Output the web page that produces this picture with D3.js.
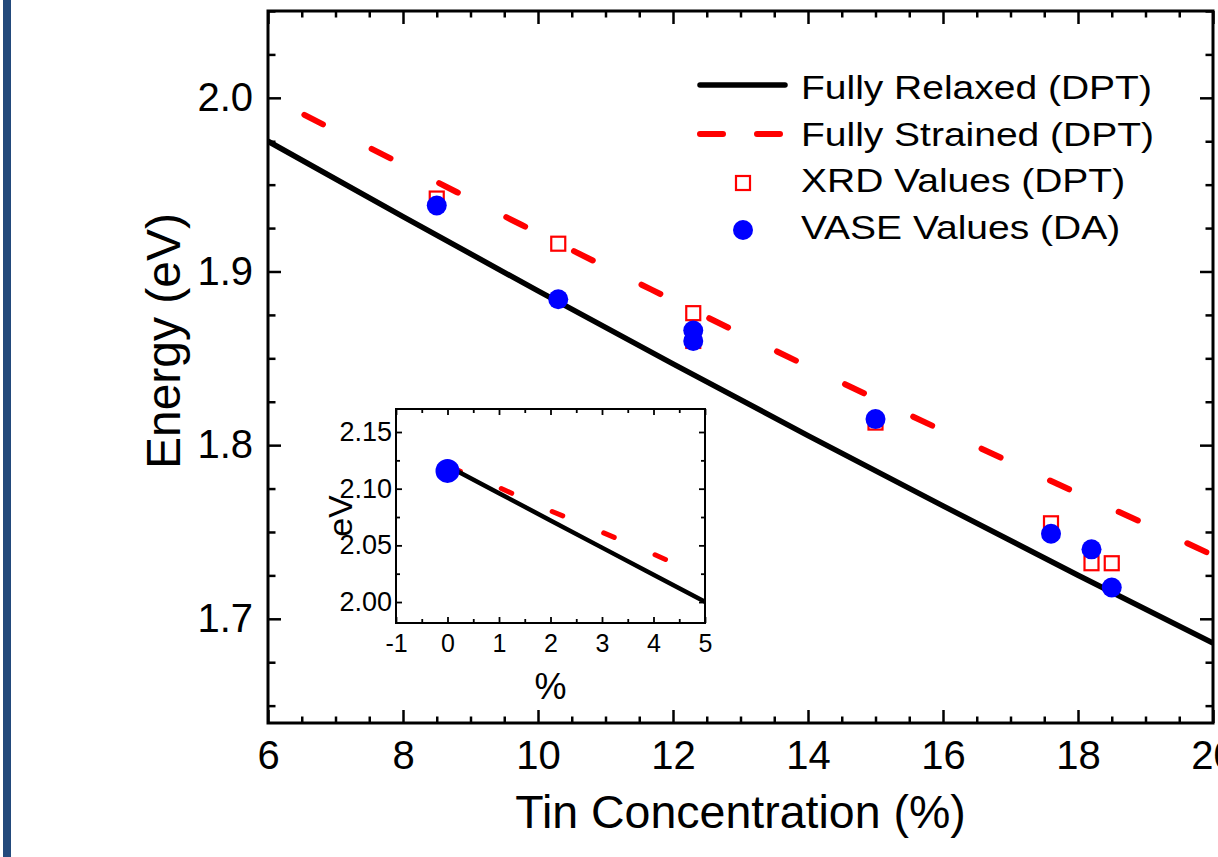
<!DOCTYPE html>
<html>
<head>
<meta charset="utf-8">
<script src="https://cdn.jsdelivr.net/npm/d3@7"></script>
<style>
  html, body { margin: 0; padding: 0; background: #fff; }
  svg { display: block; font-family: "Liberation Sans", Arial, sans-serif; }
</style>
</head>
<body>
<svg id="chart" width="1218" height="857"></svg>
<script>
// ---------------- data ----------------
const xDomain = [6, 20];
const yDomain = [1.64, 2.05];
const xMajorTicks = [6, 8, 10, 12, 14, 16, 18, 20];
const yMajorTicks = [1.7, 1.8, 1.9, 2.0];

const relaxedSn = [6, 8, 10, 12, 14, 16, 18, 20];
const relaxedE  = [1.975, 1.9316, 1.8888, 1.8468, 1.8055, 1.7650, 1.7251, 1.686];

const strainedSn = [6.5, 7, 8, 9, 10, 11, 12, 13, 14, 15, 16, 17, 18, 19, 20];
const strainedE  = [1.991, 1.981, 1.9615, 1.9417, 1.9221, 1.9027, 1.8834, 1.8642, 1.8453, 1.8267, 1.8083, 1.7902, 1.7722, 1.7546, 1.7366];

const xrdSn = [8.5, 10.3, 12.3, 12.3, 15, 17.6, 18.2, 18.5];
const xrdE  = [1.942, 1.916, 1.876, 1.860, 1.813, 1.755, 1.732, 1.732];

const vaseSn = [8.5, 10.3, 12.3, 12.3, 15, 17.6, 18.2, 18.5];
const vaseE  = [1.938, 1.884, 1.866, 1.860, 1.815, 1.749, 1.740, 1.718];

const legendLabels = ["Fully Relaxed (DPT)", "Fully Strained (DPT)", "XRD Values (DPT)", "VASE Values (DA)"];

// inset
const insetXDomain = [-1, 5];
const insetYDomain = [1.9815, 2.1703];
const insetXTicks = [-1, 0, 1, 2, 3, 4, 5];
const insetYTicks = [2.00, 2.05, 2.10, 2.15];
const insetSn = [0, 1, 2, 3, 4, 5];
const insetRelaxedE  = [2.120, 2.096, 2.072, 2.048, 2.024, 2.0003];
const insetStrainedE = [2.120, 2.101, 2.0805, 2.0616, 2.0423, 2.022];
const insetVaseSn = [0];
const insetVaseE  = [2.1157];

// ---------------- layout ----------------
const svg = d3.select("#chart");
const W = 1218, H = 857;
const L = 268, R = 1213, T = 11, B = 723;

svg.append("rect").attr("width", W).attr("height", H).attr("fill", "#fff");
svg.append("rect").attr("x", 3).attr("y", 0).attr("width", 8).attr("height", H).attr("fill", "#234a7c");

const x = d3.scaleLinear().domain(xDomain).range([L, R]);
const y = d3.scaleLinear().domain(yDomain).range([B, T]);

const defs = svg.append("defs");
defs.append("clipPath").attr("id", "mainClip")
  .append("rect").attr("x", L).attr("y", T).attr("width", R - L).attr("height", B - T);

function range(a, b, s) { const r = []; for (let v = a; v <= b + 1e-9; v += s) r.push(+v.toFixed(4)); return r; }
const xMinor = range(6, 20, 0.5).filter(v => Math.abs(v / 2 - Math.round(v / 2)) > 1e-6);
const yMinor = range(1.65, 2.05, 0.025).filter(v => !yMajorTicks.some(m => Math.abs(m - v) < 1e-6));

function styleAxis(g, sw) {
  g.select(".domain").remove();
  g.selectAll(".tick line").attr("stroke", "#000").attr("stroke-width", sw);
}

// main axes
const gx = svg.append("g").attr("transform", `translate(0,${B})`)
  .call(d3.axisBottom(x).tickValues(xMajorTicks).tickSize(-13).tickPadding(18).tickFormat(d3.format("d")));
styleAxis(gx, 2.5);
gx.selectAll("text").attr("font-size", 40).attr("fill", "#000");
const gxm = svg.append("g").attr("transform", `translate(0,${B})`)
  .call(d3.axisBottom(x).tickValues(xMinor).tickSize(-6.5).tickFormat(""));
styleAxis(gxm, 2.5);

const gt = svg.append("g").attr("transform", `translate(0,${T})`)
  .call(d3.axisTop(x).tickValues(xMajorTicks).tickSize(-13).tickFormat(""));
styleAxis(gt, 2.5);
const gtm = svg.append("g").attr("transform", `translate(0,${T})`)
  .call(d3.axisTop(x).tickValues(xMinor).tickSize(-6.5).tickFormat(""));
styleAxis(gtm, 2.5);

const gy = svg.append("g").attr("transform", `translate(${L},0)`)
  .call(d3.axisLeft(y).tickValues(yMajorTicks).tickSize(-13).tickPadding(15).tickFormat(d3.format(".1f")));
styleAxis(gy, 2.5);
gy.selectAll("text").attr("font-size", 40).attr("fill", "#000");
const gym = svg.append("g").attr("transform", `translate(${L},0)`)
  .call(d3.axisLeft(y).tickValues(yMinor).tickSize(-7.5).tickFormat(""));
styleAxis(gym, 2.5);

const gr = svg.append("g").attr("transform", `translate(${R},0)`)
  .call(d3.axisRight(y).tickValues(yMajorTicks).tickSize(-13).tickFormat(""));
styleAxis(gr, 2.5);
const grm = svg.append("g").attr("transform", `translate(${R},0)`)
  .call(d3.axisRight(y).tickValues(yMinor).tickSize(-7.5).tickFormat(""));
styleAxis(grm, 2.5);

svg.append("rect").attr("x", L).attr("y", T).attr("width", R - L).attr("height", B - T)
  .attr("fill", "none").attr("stroke", "#000").attr("stroke-width", 3);

// titles
svg.append("text").attr("x", (L + R) / 2).attr("y", 828).attr("text-anchor", "middle")
  .attr("font-size", 46.5).text("Tin Concentration (%)");
svg.append("text").attr("transform", "translate(180,341) rotate(-90)").attr("text-anchor", "middle")
  .attr("font-size", 48).text("Energy (eV)");

// lines
const plot = svg.append("g").attr("clip-path", "url(#mainClip)");
const lineGen = d3.line().x(d => x(d[0])).y(d => y(d[1])).curve(d3.curveNatural);

plot.append("path").datum(relaxedSn.map((v, i) => [v, relaxedE[i]]))
  .attr("d", lineGen).attr("fill", "none").attr("stroke", "#000").attr("stroke-width", 5.5);

plot.append("path").datum(strainedSn.map((v, i) => [v, strainedE[i]]))
  .attr("d", lineGen).attr("fill", "none").attr("stroke", "#ff0000").attr("stroke-width", 6)
  .attr("stroke-linecap", "round").attr("stroke-dasharray", "21,54.5").attr("stroke-dashoffset", -3);

// points
plot.selectAll("rect.xrd").data(xrdSn.map((v, i) => [v, xrdE[i]])).enter().append("rect")
  .attr("class", "xrd")
  .attr("x", d => x(d[0]) - 7).attr("y", d => y(d[1]) - 7).attr("width", 14).attr("height", 14)
  .attr("fill", "#fff").attr("stroke", "#ff0000").attr("stroke-width", 2.2);

plot.selectAll("circle.vase").data(vaseSn.map((v, i) => [v, vaseE[i]])).enter().append("circle")
  .attr("class", "vase")
  .attr("cx", d => x(d[0])).attr("cy", d => y(d[1])).attr("r", 10).attr("fill", "#0000ff");

// legend
const lg = svg.append("g");
lg.append("line").attr("x1", 700).attr("x2", 785).attr("y1", 85).attr("y2", 85)
  .attr("stroke", "#000").attr("stroke-width", 5.5).attr("stroke-linecap", "round");
lg.append("line").attr("x1", 700).attr("x2", 782).attr("y1", 134).attr("y2", 134)
  .attr("stroke", "#ff0000").attr("stroke-width", 6).attr("stroke-linecap", "round")
  .attr("stroke-dasharray", "23,34");
lg.append("rect").attr("x", 736).attr("y", 176).attr("width", 14).attr("height", 14)
  .attr("fill", "#fff").attr("stroke", "#ff0000").attr("stroke-width", 2.2);
lg.append("circle").attr("cx", 743).attr("cy", 230).attr("r", 10).attr("fill", "#0000ff");
const legendBase = [99, 146, 192, 239];
legendLabels.forEach((t, i) => {
  lg.append("text").attr("transform", `translate(801,${legendBase[i]}) scale(1.2,1)`)
    .attr("font-size", 32.5).text(t);
});

// ---------------- inset ----------------
const iL = 396, iR = 705, iT = 409, iB = 623;
const ix = d3.scaleLinear().domain(insetXDomain).range([iL, iR]);
const iy = d3.scaleLinear().domain(insetYDomain).range([iB, iT]);
defs.append("clipPath").attr("id", "insetClip")
  .append("rect").attr("x", iL).attr("y", iT).attr("width", iR - iL).attr("height", iB - iT);

svg.append("rect").attr("x", iL).attr("y", iT).attr("width", iR - iL).attr("height", iB - iT)
  .attr("fill", "#fff");

const ixMinor = range(-1, 5, 0.5).filter(v => Math.abs(v - Math.round(v)) > 1e-6);
const iyMinor = range(1.975, 2.175, 0.025).filter(v => !insetYTicks.some(m => Math.abs(m - v) < 1e-6) && v > insetYDomain[0] && v < insetYDomain[1]);

const igx = svg.append("g").attr("transform", `translate(0,${iB})`)
  .call(d3.axisBottom(ix).tickValues(insetXTicks).tickSize(-6).tickPadding(11).tickFormat(d3.format("d")));
styleAxis(igx, 1.8);
igx.selectAll("text").attr("font-size", 25).attr("fill", "#000").text(d => d < 0 ? "-" + Math.abs(d) : d);
const igxm = svg.append("g").attr("transform", `translate(0,${iB})`)
  .call(d3.axisBottom(ix).tickValues(ixMinor).tickSize(-4).tickFormat(""));
styleAxis(igxm, 1.8);
const igt = svg.append("g").attr("transform", `translate(0,${iT})`)
  .call(d3.axisTop(ix).tickValues(insetXTicks).tickSize(-6).tickFormat(""));
styleAxis(igt, 1.8);
const igtm = svg.append("g").attr("transform", `translate(0,${iT})`)
  .call(d3.axisTop(ix).tickValues(ixMinor).tickSize(-4).tickFormat(""));
styleAxis(igtm, 1.8);

const igy = svg.append("g").attr("transform", `translate(${iL},0)`)
  .call(d3.axisLeft(iy).tickValues(insetYTicks).tickSize(-6).tickPadding(4).tickFormat(d3.format(".2f")));
styleAxis(igy, 1.8);
igy.selectAll("text").attr("font-size", 27).attr("fill", "#000");
const igym = svg.append("g").attr("transform", `translate(${iL},0)`)
  .call(d3.axisLeft(iy).tickValues(iyMinor).tickSize(-4).tickFormat(""));
styleAxis(igym, 1.8);
const igr = svg.append("g").attr("transform", `translate(${iR},0)`)
  .call(d3.axisRight(iy).tickValues(insetYTicks).tickSize(-6).tickFormat(""));
styleAxis(igr, 1.8);
const igrm = svg.append("g").attr("transform", `translate(${iR},0)`)
  .call(d3.axisRight(iy).tickValues(iyMinor).tickSize(-4).tickFormat(""));
styleAxis(igrm, 1.8);

const iplot = svg.append("g").attr("clip-path", "url(#insetClip)");
const iLine = d3.line().x(d => ix(d[0])).y(d => iy(d[1]));
iplot.append("path").datum(insetSn.map((v, i) => [v, insetStrainedE[i]]))
  .attr("d", iLine).attr("fill", "none").attr("stroke", "#ff0000").attr("stroke-width", 5)
  .attr("stroke-linecap", "round").attr("stroke-dasharray", "11.5,44.3").attr("stroke-dashoffset", -2.5);
iplot.append("path").datum(insetSn.map((v, i) => [v, insetRelaxedE[i]]))
  .attr("d", iLine).attr("fill", "none").attr("stroke", "#000").attr("stroke-width", 4.5);
iplot.selectAll("circle").data(insetVaseSn.map((v, i) => [v, insetVaseE[i]])).enter().append("circle")
  .attr("cx", d => ix(d[0])).attr("cy", d => iy(d[1])).attr("r", 12).attr("fill", "#0000ff");

svg.append("rect").attr("x", iL).attr("y", iT).attr("width", iR - iL).attr("height", iB - iT)
  .attr("fill", "none").attr("stroke", "#000").attr("stroke-width", 2);

svg.append("text").attr("x", (iL + iR) / 2).attr("y", 699).attr("text-anchor", "middle")
  .attr("font-size", 36).text("%");
svg.append("text").attr("transform", `translate(352,${(iT + iB) / 2}) rotate(-90)`).attr("text-anchor", "middle")
  .attr("font-size", 34).text("eV");
</script>
</body>
</html>
